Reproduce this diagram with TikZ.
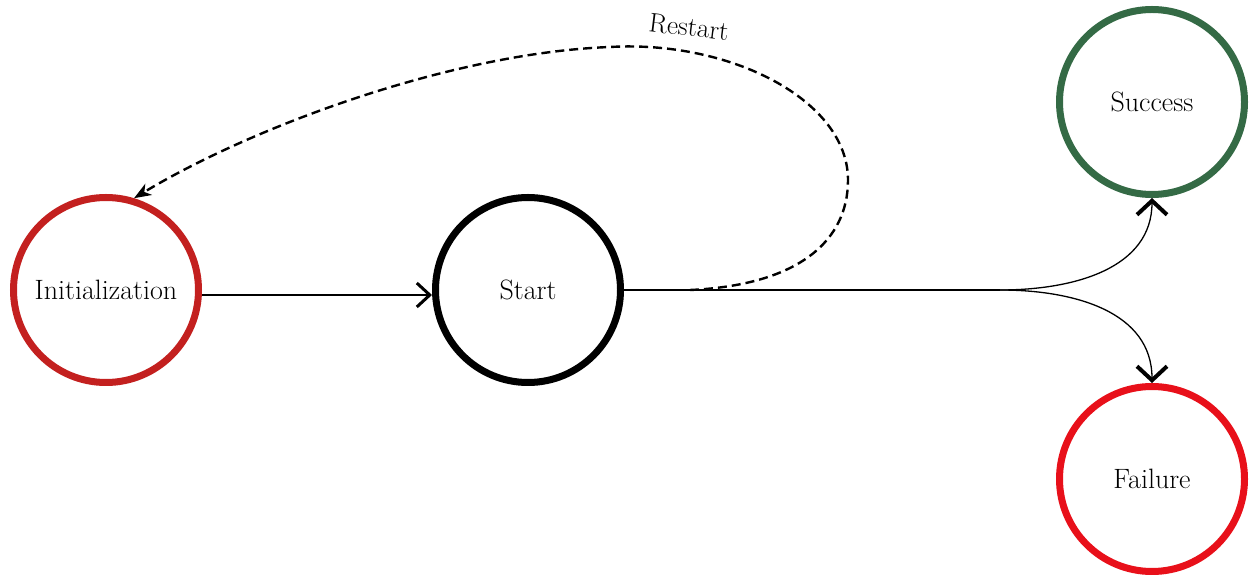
\documentclass[tikz,border=0pt]{standalone}
\usetikzlibrary{arrows.meta}
\definecolor{initred}{HTML}{C3201F}
\definecolor{succgreen}{HTML}{346A45}
\definecolor{failred}{HTML}{E8101A}
\tikzset{
  state/.style={circle, draw, line width=7pt, minimum size=185pt, inner sep=0pt, font=\fontsize{28}{33}\selectfont},
  thinarrow/.style={line width=1.4pt, -{Straight Barb[length=13pt,width=24pt,line width=3pt]}},
  bigarrow/.style={line width=1.3pt, -{Straight Barb[length=14pt,width=30pt,line width=4pt]}},
  restartline/.style={line width=2.4pt, dash pattern=on 9pt off 5pt, -{Stealth[length=17pt,width=13pt,inset=5pt]}}
}
\begin{document}
\begin{tikzpicture}[x=1pt,y=1pt]
\useasboundingbox (0,0) rectangle (1253,578);
\node[state, draw=initred] (init) at (106,288) {Initialization};
\node[state, draw=black] (start) at (528,288) {Start};
\node[state, draw=succgreen] (succ) at (1152,476) {Success};
\node[state, draw=failred] (fail) at (1152,99) {Failure};
\coordinate (split) at (1000,288);
\coordinate (r0) at (690,288);
\draw[thinarrow] ([yshift=-5pt]init.east) -- ([yshift=-5pt]start.west);
\draw[line width=1.3pt] (start.east) -- (split);
\draw[bigarrow] (split) .. controls (1075,288) and (1152,310) .. (succ.south);
\draw[bigarrow] (split) .. controls (1075,288) and (1152,266) .. (fail.north);
\draw[restartline] (r0) .. controls (800,293) and (848,338) .. (848,398)
  .. controls (848,478) and (730,538) .. (610,531)
  .. controls (450,525) and (250,450) .. (init.73);
\node[rotate=-7, inner sep=1pt, font=\fontsize{27}{31}\selectfont] (lbl) at (689,551) {Restart};
\end{tikzpicture}
\end{document}
